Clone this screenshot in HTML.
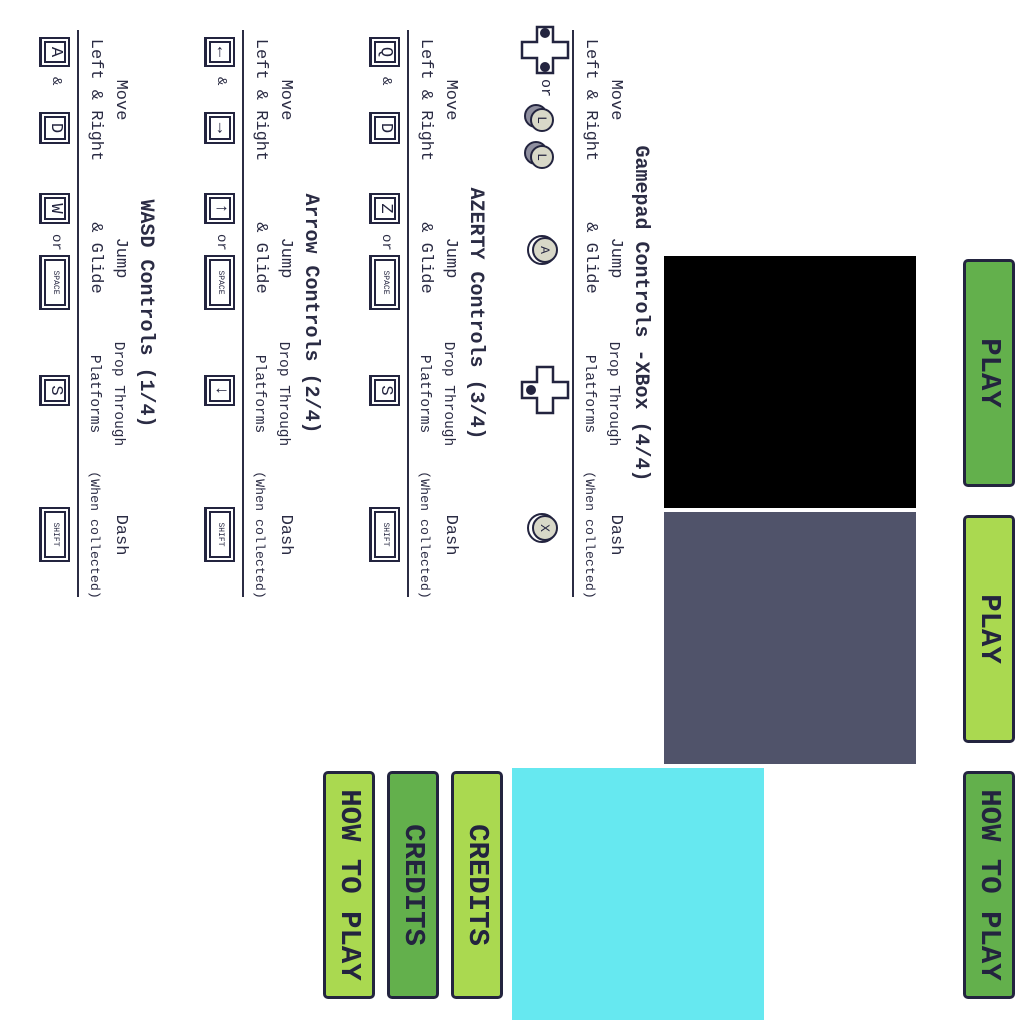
<!DOCTYPE html>
<html><head><meta charset="utf-8"><style>
html,body{margin:0;padding:0;background:#fff;width:1024px;height:1024px;overflow:hidden}
#r{position:absolute;left:0;top:0;width:1024px;height:1024px;transform:rotate(90deg);transform-origin:512px 512px}
.a{position:absolute}
.btn{position:absolute;width:222px;height:46px;border:3px solid #23243f;border-radius:5px;color:#23243f;font:bold 29px/46px "Liberation Mono",monospace;text-align:center;letter-spacing:0px}
.g{background:#63b04c}.l{background:#aad950}
.p{position:absolute;left:0;width:1024px;height:130px;color:#2b2c44}
.t{position:absolute;left:30px;width:567px;top:-1px;height:22px;font:bold 20px/22px "Liberation Mono",monospace;text-align:center;color:#2b2c44}
.c{position:absolute;width:200px;margin-left:-100px;text-align:center;font:17px/18px "Liberation Mono",monospace;white-space:nowrap}
.c1{top:26px}.c2{top:51px}
.c1s{top:28px;font-size:14.5px}.c2s{top:52px;font-size:14.5px}
.c2x{top:52px;font-size:13.3px}
.ln{position:absolute;left:30px;width:567px;top:76px;height:2px;background:#2b2c44}
.k{position:absolute;top:85px;height:26px;border:2px solid #23243f;box-shadow:inset 0 0 0 2px #fff,inset 0 0 0 4px #23243f;border-bottom-width:3px;font:17px/26px "Liberation Mono",monospace;text-align:center;color:#23243f;box-sizing:content-box}
.sm{font-size:8px}
.o{position:absolute;top:91px;font:14px/16px "Liberation Mono",monospace}
</style></head><body><div id="r">
<div class="btn g" style="left:259px;top:9px">PLAY</div>
<div class="btn l" style="left:515px;top:9px">PLAY</div>
<div class="btn g" style="left:771px;top:9px">HOW TO PLAY</div>
<div class="a" style="left:256px;top:108px;width:252px;height:252px;background:#000"></div>
<div class="a" style="left:512px;top:108px;width:252px;height:252px;background:#50536a"></div>
<div class="a" style="left:768px;top:260px;width:252px;height:252px;background:#66e8f0"></div>
<div class="btn l" style="left:771px;top:521px">CREDITS</div>
<div class="btn g" style="left:771px;top:585px">CREDITS</div>
<div class="btn l" style="left:771px;top:649px">HOW TO PLAY</div>

<!-- Gamepad -->
<div class="p" style="top:374px">
<div class="t">Gamepad Controls -XBox (4/4)</div>
<div class="c c1" style="left:100px">Move</div><div class="c c2" style="left:100px">Left &amp; Right</div>
<div class="c c1" style="left:258px">Jump</div><div class="c c2" style="left:258px">&amp; Glide</div>
<div class="c c1s" style="left:394px">Drop Through</div><div class="c c2s" style="left:394px">Platforms</div>
<div class="c c1" style="left:535px">Dash</div><div class="c c2x" style="left:535px">(When collected)</div>
<div class="ln"></div>
<svg class="a" style="left:0;top:78px" width="600" height="56" viewBox="0 0 600 56">
<g fill="#fff" stroke="#23243f" stroke-width="2.5">
<path d="M42 4h16v15h15v16h-15v15h-16v-15h-15v-16h15z"/>
<path d="M382 4h16v15h15v16h-15v15h-16v-15h-15v-16h15z"/>
</g>
<g fill="#23243f"><circle cx="33" cy="27" r="5"/><circle cx="67" cy="27" r="5"/><circle cx="390" cy="41" r="5"/></g>
<text x="79" y="30" font-family="Liberation Mono" font-size="15" fill="#23243f">or</text>
<g stroke="#23243f" stroke-width="2"><circle cx="116" cy="36" r="11" fill="#8f8f9f"/><circle cx="120" cy="30" r="11" fill="#d8d8c8"/>
<circle cx="153" cy="36" r="11" fill="#8f8f9f"/><circle cx="157" cy="30" r="11" fill="#d8d8c8"/>
<circle cx="250" cy="30" r="14" fill="#fff"/><circle cx="250" cy="27" r="12" fill="#d8d8c8"/>
<circle cx="528" cy="30" r="14" fill="#fff"/><circle cx="528" cy="27" r="12" fill="#d8d8c8"/></g>
<g font-family="Liberation Mono" font-size="13" fill="#23243f" text-anchor="middle"><text x="120" y="34">L</text><text x="157" y="34">L</text><text x="250" y="31">A</text><text x="528" y="31">X</text></g>
</svg>
</div>

<!-- AZERTY -->
<div class="p" style="top:539px">
<div class="t">AZERTY Controls (3/4)</div>
<div class="c c1" style="left:100px">Move</div><div class="c c2" style="left:100px">Left &amp; Right</div>
<div class="c c1" style="left:258px">Jump</div><div class="c c2" style="left:258px">&amp; Glide</div>
<div class="c c1s" style="left:394px">Drop Through</div><div class="c c2s" style="left:394px">Platforms</div>
<div class="c c1" style="left:535px">Dash</div><div class="c c2x" style="left:535px">(When collected)</div>
<div class="ln"></div>
<div class="k" style="left:37px;width:26px">Q</div><div class="o" style="left:77px">&amp;</div><div class="k" style="left:112px;width:28px">D</div>
<div class="k" style="left:193px;width:27px">Z</div><div class="o" style="left:234px">or</div><div class="k sm" style="left:255px;width:51px">SPACE</div>
<div class="k" style="left:375px;width:27px">S</div>
<div class="k sm" style="left:507px;width:51px">SHIFT</div>
</div>

<!-- Arrow -->
<div class="p" style="top:704px">
<div class="t">Arrow Controls (2/4)</div>
<div class="c c1" style="left:100px">Move</div><div class="c c2" style="left:100px">Left &amp; Right</div>
<div class="c c1" style="left:258px">Jump</div><div class="c c2" style="left:258px">&amp; Glide</div>
<div class="c c1s" style="left:394px">Drop Through</div><div class="c c2s" style="left:394px">Platforms</div>
<div class="c c1" style="left:535px">Dash</div><div class="c c2x" style="left:535px">(When collected)</div>
<div class="ln"></div>
<div class="k" style="left:37px;width:26px;font-weight:bold">←</div><div class="o" style="left:77px">&amp;</div><div class="k" style="left:112px;width:28px;font-weight:bold">→</div>
<div class="k" style="left:193px;width:27px;font-weight:bold">↑</div><div class="o" style="left:234px">or</div><div class="k sm" style="left:255px;width:51px">SPACE</div>
<div class="k" style="left:375px;width:27px;font-weight:bold">↓</div>
<div class="k sm" style="left:507px;width:51px">SHIFT</div>
</div>

<!-- WASD -->
<div class="p" style="top:869px">
<div class="t">WASD Controls (1/4)</div>
<div class="c c1" style="left:100px">Move</div><div class="c c2" style="left:100px">Left &amp; Right</div>
<div class="c c1" style="left:258px">Jump</div><div class="c c2" style="left:258px">&amp; Glide</div>
<div class="c c1s" style="left:394px">Drop Through</div><div class="c c2s" style="left:394px">Platforms</div>
<div class="c c1" style="left:535px">Dash</div><div class="c c2x" style="left:535px">(When collected)</div>
<div class="ln"></div>
<div class="k" style="left:37px;width:26px">A</div><div class="o" style="left:77px">&amp;</div><div class="k" style="left:112px;width:28px">D</div>
<div class="k" style="left:193px;width:27px">W</div><div class="o" style="left:234px">or</div><div class="k sm" style="left:255px;width:51px">SPACE</div>
<div class="k" style="left:375px;width:27px">S</div>
<div class="k sm" style="left:507px;width:51px">SHIFT</div>
</div>
</div></body></html>
